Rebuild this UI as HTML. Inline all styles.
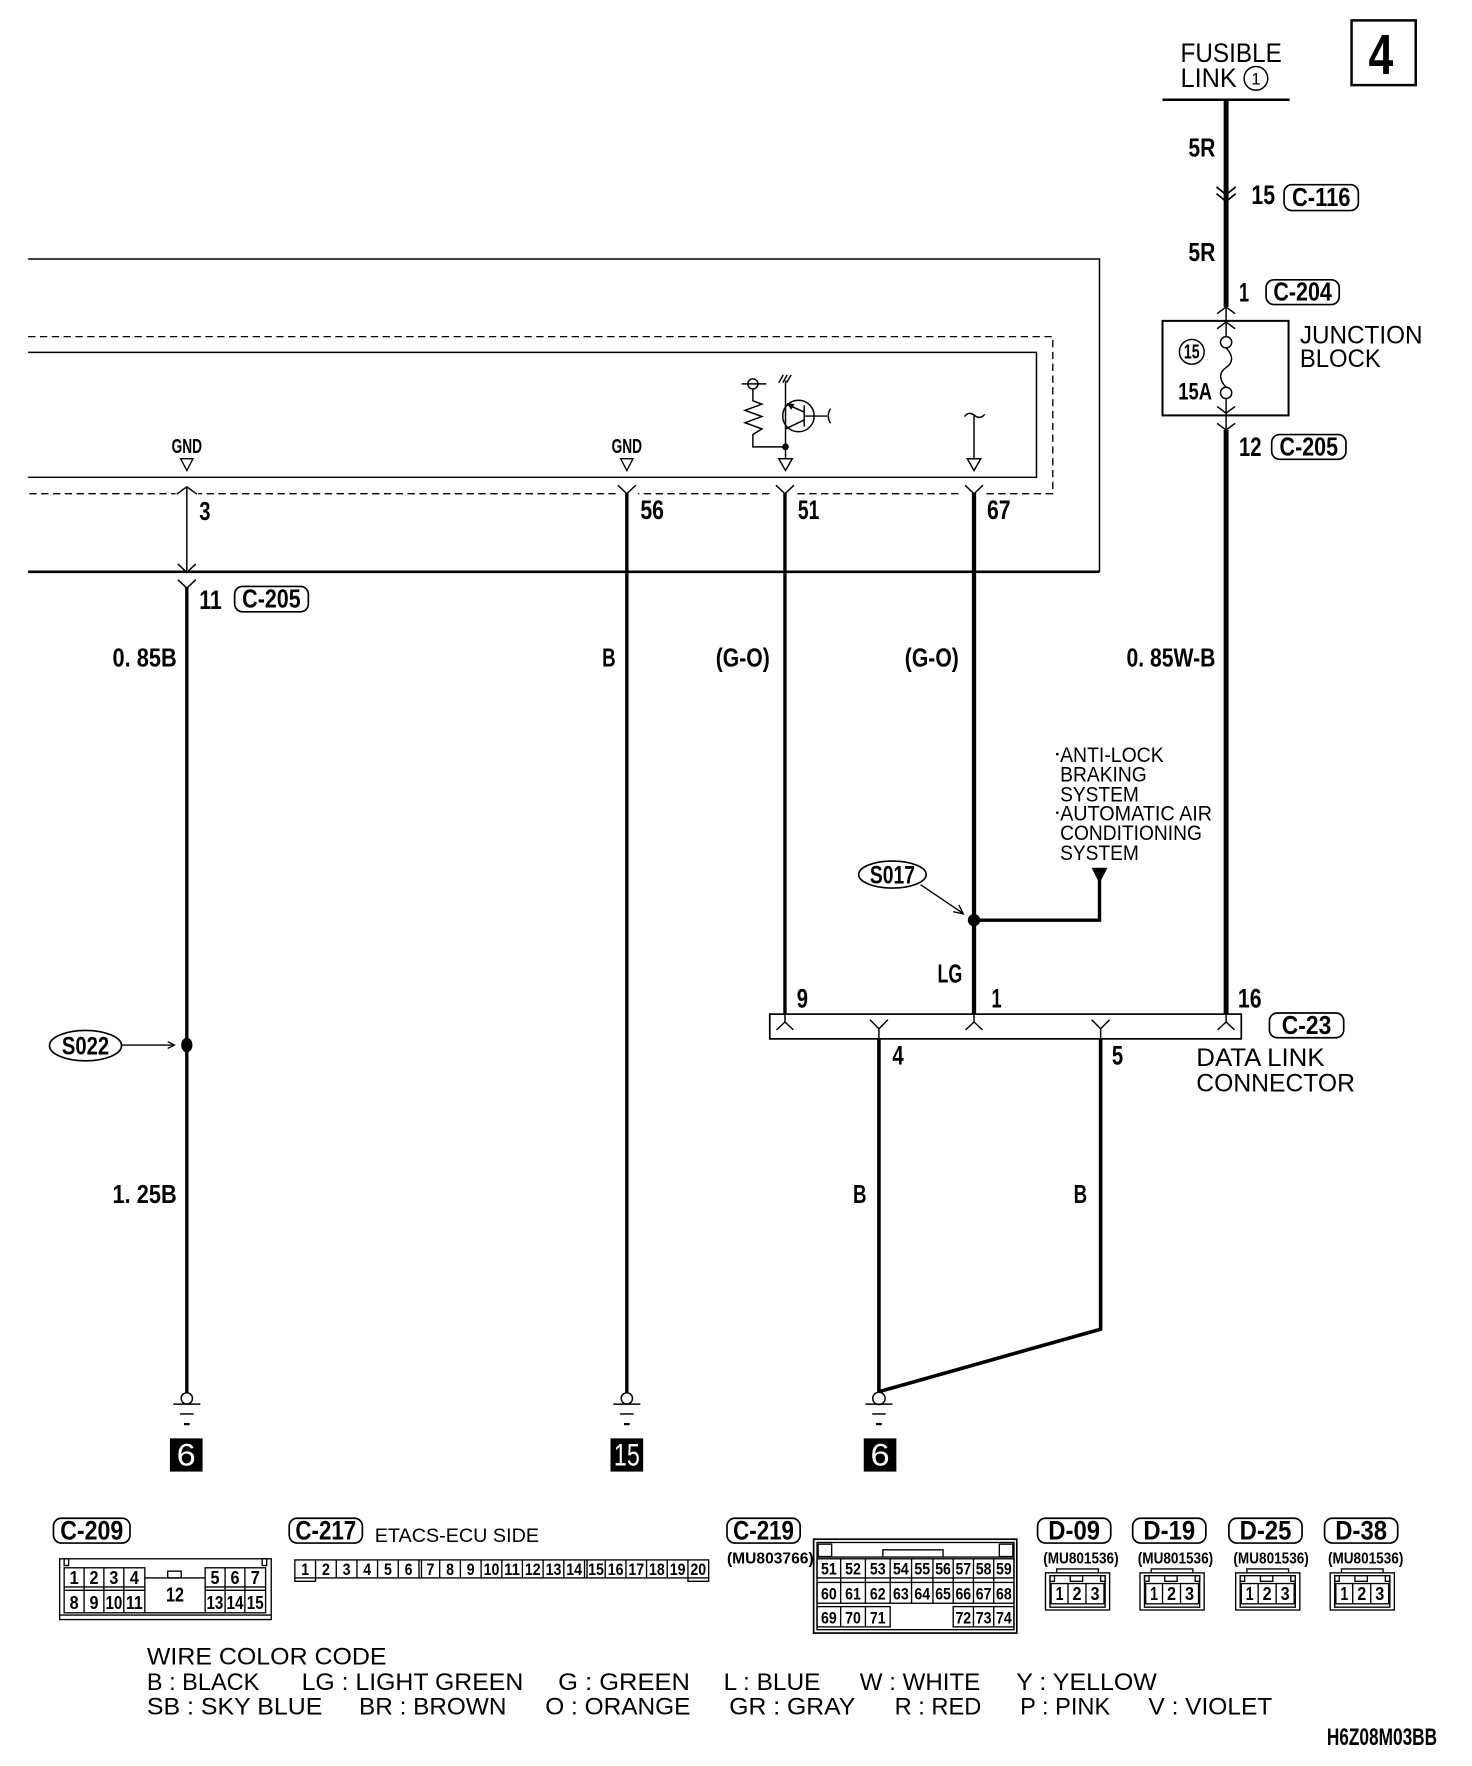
<!DOCTYPE html>
<html><head><meta charset="utf-8">
<style>
html,body{margin:0;padding:0;background:#fff;}
svg{display:block;}
text{font-family:"Liberation Sans",sans-serif;fill:#000;}
</style></head><body>
<svg width="1472" height="1766" viewBox="0 0 1308 1569" xmlns="http://www.w3.org/2000/svg">
<rect x="0" y="0" width="1308" height="1569" fill="#fff"/>

<!-- ===== Top right: page number, fusible link ===== -->
<rect x="1201" y="18" width="57" height="57.5" fill="none" stroke="#000" stroke-width="2.2"/>
<text x="1216" y="65.5" font-size="50" font-weight="bold" textLength="22" lengthAdjust="spacingAndGlyphs">4</text>
<text x="1049" y="55" font-size="24" textLength="90" lengthAdjust="spacingAndGlyphs">FUSIBLE</text>
<text x="1049" y="77" font-size="24" textLength="50" lengthAdjust="spacingAndGlyphs">LINK</text>
<circle cx="1116" cy="69.5" r="10.5" fill="none" stroke="#000" stroke-width="1.3"/>
<text x="1116" y="75" font-size="15" text-anchor="middle">1</text>
<line x1="1033" y1="88.5" x2="1146" y2="88.5" stroke="#000" stroke-width="2.2"/>

<!-- main power wire -->
<line x1="1089.5" y1="88" x2="1089.5" y2="272.6" stroke="#000" stroke-width="4.4"/>
<text x="1056" y="139" font-size="23" font-weight="bold" textLength="24" lengthAdjust="spacingAndGlyphs">5R</text>
<polyline points="1081,166 1089.5,173 1098,166" fill="none" stroke="#000" stroke-width="1.5"/>
<polyline points="1081,172 1089.5,179 1098,172" fill="none" stroke="#000" stroke-width="1.5"/>
<text x="1112" y="181" font-size="24" font-weight="bold" textLength="21" lengthAdjust="spacingAndGlyphs">15</text>
<rect x="1141" y="164" width="66" height="23" rx="7" fill="none" stroke="#000" stroke-width="1.5"/>
<text x="1174" y="183" font-size="23" font-weight="bold" text-anchor="middle" textLength="52" lengthAdjust="spacingAndGlyphs">C-116</text>
<text x="1056" y="232" font-size="23" font-weight="bold" textLength="24" lengthAdjust="spacingAndGlyphs">5R</text>
<text x="1101" y="268" font-size="24" font-weight="bold" textLength="9" lengthAdjust="spacingAndGlyphs">1</text>
<rect x="1125" y="248.5" width="65" height="22" rx="7" fill="none" stroke="#000" stroke-width="1.5"/>
<text x="1157.5" y="267" font-size="23" font-weight="bold" text-anchor="middle" textLength="52" lengthAdjust="spacingAndGlyphs">C-204</text>

<!-- junction block -->
<polyline points="1081.5,278.6 1089.5,272.6 1097.5,278.6" fill="none" stroke="#000" stroke-width="1.3"/>
<line x1="1089.5" y1="272.6" x2="1089.5" y2="299" stroke="#000" stroke-width="1.3"/>
<rect x="1033" y="285" width="112" height="84" fill="none" stroke="#000" stroke-width="1.8"/>
<polyline points="1081.5,292 1089.5,286 1097.5,292" fill="none" stroke="#000" stroke-width="1.3"/>
<circle cx="1089.5" cy="304" r="5" fill="#fff" stroke="#000" stroke-width="1.3"/>
<path d="M1089.5 309 C1096 316 1096 322 1089.5 326.5 C1083 331 1083 337 1089.5 344" fill="none" stroke="#000" stroke-width="1.3"/>
<circle cx="1089.5" cy="349" r="5" fill="#fff" stroke="#000" stroke-width="1.3"/>
<line x1="1089.5" y1="354" x2="1089.5" y2="382" stroke="#000" stroke-width="1.3"/>
<polyline points="1081.5,361 1089.5,367 1097.5,361" fill="none" stroke="#000" stroke-width="1.3"/>
<polyline points="1081.5,376 1089.5,382 1097.5,376" fill="none" stroke="#000" stroke-width="1.3"/>
<circle cx="1059" cy="312.5" r="11" fill="none" stroke="#000" stroke-width="1.3"/>
<text x="1059" y="318.5" font-size="18" font-weight="bold" text-anchor="middle" textLength="14" lengthAdjust="spacingAndGlyphs">15</text>
<text x="1047" y="355" font-size="21" font-weight="bold" textLength="30" lengthAdjust="spacingAndGlyphs">15A</text>
<text x="1155" y="305" font-size="22" textLength="109" lengthAdjust="spacingAndGlyphs">JUNCTION</text>
<text x="1155" y="326" font-size="22" textLength="72" lengthAdjust="spacingAndGlyphs">BLOCK</text>
<text x="1101" y="405" font-size="24" font-weight="bold" textLength="20" lengthAdjust="spacingAndGlyphs">12</text>
<rect x="1130" y="386" width="66" height="22" rx="7" fill="none" stroke="#000" stroke-width="1.5"/>
<text x="1163" y="404.5" font-size="23" font-weight="bold" text-anchor="middle" textLength="52" lengthAdjust="spacingAndGlyphs">C-205</text>
<line x1="1089.5" y1="382" x2="1089.5" y2="901" stroke="#000" stroke-width="4.4"/>
<text x="1001" y="592" font-size="23" font-weight="bold" textLength="79" lengthAdjust="spacingAndGlyphs">0. 85W-B</text>

<!-- ===== ECU boxes ===== -->
<polyline points="25,230 977,230 977,508" fill="none" stroke="#000" stroke-width="1.3"/>
<line x1="25" y1="508" x2="977" y2="508" stroke="#000" stroke-width="2.4"/>
<path d="M25 299 H935.5 V438.6 H25" fill="none" stroke="#000" stroke-width="1.2" stroke-dasharray="6.5 4"/>
<path d="M25 313 H921 V424 H25" fill="none" stroke="#000" stroke-width="1.3"/>

<!-- GND labels -->
<text x="166" y="402.5" font-size="18" font-weight="bold" text-anchor="middle" textLength="27" lengthAdjust="spacingAndGlyphs">GND</text>
<polygon points="160.5,407.5 171.5,407.5 166,418" fill="none" stroke="#000" stroke-width="1.2"/>
<text x="557" y="402.5" font-size="18" font-weight="bold" text-anchor="middle" textLength="27" lengthAdjust="spacingAndGlyphs">GND</text>
<polygon points="551.5,407.5 562.5,407.5 557,418" fill="none" stroke="#000" stroke-width="1.2"/>

<!-- Pin 3 -->
<rect x="156" y="434" width="20" height="8" fill="#fff"/>
<polyline points="157,439 166,432.4 175,439" fill="none" stroke="#000" stroke-width="1.3"/>
<line x1="166" y1="432.4" x2="166" y2="508" stroke="#000" stroke-width="1.3"/>
<polyline points="158,501 166,508.5 174,501" fill="none" stroke="#000" stroke-width="1.3"/>
<polyline points="158,515 166,522.5 174,515" fill="none" stroke="#000" stroke-width="1.3"/>
<line x1="166" y1="522" x2="166" y2="1237.5" stroke="#000" stroke-width="3"/>
<text x="177" y="462" font-size="23" font-weight="bold" textLength="10" lengthAdjust="spacingAndGlyphs">3</text>
<text x="177" y="541" font-size="24" font-weight="bold" textLength="20" lengthAdjust="spacingAndGlyphs">11</text>
<rect x="208.5" y="521" width="65.5" height="22.5" rx="7" fill="none" stroke="#000" stroke-width="1.5"/>
<text x="241.2" y="539.5" font-size="23" font-weight="bold" text-anchor="middle" textLength="52" lengthAdjust="spacingAndGlyphs">C-205</text>
<text x="157" y="592" font-size="23" font-weight="bold" text-anchor="end" textLength="57" lengthAdjust="spacingAndGlyphs">0. 85B</text>

<!-- Pin 56 -->
<rect x="547" y="434" width="20" height="8" fill="#fff"/>
<polyline points="549,431 557,438.6 565,431" fill="none" stroke="#000" stroke-width="1.3"/>
<line x1="557" y1="438" x2="557" y2="1237.5" stroke="#000" stroke-width="3"/>
<text x="569" y="461" font-size="24" font-weight="bold" textLength="21" lengthAdjust="spacingAndGlyphs">56</text>
<text x="547" y="592" font-size="23" font-weight="bold" text-anchor="end" textLength="12" lengthAdjust="spacingAndGlyphs">B</text>

<!-- Pin 51 & internal transistor -->
<rect x="687" y="434" width="20" height="8" fill="#fff"/>
<polyline points="689.5,431 697.5,438.6 705.5,431" fill="none" stroke="#000" stroke-width="1.3"/>
<line x1="697.5" y1="438" x2="697.5" y2="901" stroke="#000" stroke-width="3"/>
<text x="709" y="461" font-size="24" font-weight="bold" textLength="19" lengthAdjust="spacingAndGlyphs">51</text>
<text x="684" y="592" font-size="23" font-weight="bold" text-anchor="end" textLength="48" lengthAdjust="spacingAndGlyphs">(G-O)</text>

<g stroke="#000" stroke-width="1.3" fill="none">
  <line x1="698" y1="338" x2="698" y2="407"/>
  <line x1="692" y1="340" x2="696" y2="333"/>
  <line x1="695.5" y1="340" x2="699.5" y2="333"/>
  <line x1="699" y1="340" x2="703" y2="333"/>
  <circle cx="709.5" cy="369.5" r="14"/>
  <line x1="714.6" y1="360" x2="714.6" y2="379"/>
  <line x1="700" y1="359.5" x2="714.6" y2="366"/>
  <line x1="714.6" y1="373" x2="698" y2="381"/>
  <line x1="714.6" y1="369.6" x2="735" y2="369.6"/>
  <path d="M738 363 Q734 369.6 738 376"/>
  <circle cx="669" cy="341" r="4.5" fill="#fff"/>
  <line x1="659" y1="341" x2="681" y2="341"/>
  <path d="M669 345.5 V356 L677 359 L662 364.5 L677 370 L662 375.5 L677 381 L669 386 V397 H698"/>
  <polygon points="692,407.5 704,407.5 698,418"/>
</g>
<polygon points="699,358 706,359 703,364" fill="#000"/>
<circle cx="698" cy="397" r="3" fill="#000"/>

<!-- Pin 67 -->
<g stroke="#000" stroke-width="1.3" fill="none">
  <path d="M857 370 Q861 365 866 369 Q871 373 875 368"/>
  <line x1="865.5" y1="369" x2="865.5" y2="407"/>
  <polygon points="859.5,407.5 871.5,407.5 865.5,418"/>
</g>
<rect x="855" y="434" width="20" height="8" fill="#fff"/>
<polyline points="857.5,431 865.5,438.6 873.5,431" fill="none" stroke="#000" stroke-width="1.3"/>
<line x1="865.5" y1="438" x2="865.5" y2="901" stroke="#000" stroke-width="3.8"/>
<text x="877" y="461" font-size="24" font-weight="bold" textLength="21" lengthAdjust="spacingAndGlyphs">67</text>
<text x="852" y="592" font-size="23" font-weight="bold" text-anchor="end" textLength="48" lengthAdjust="spacingAndGlyphs">(G-O)</text>

<!-- S017 splice -->
<ellipse cx="793" cy="777" rx="30" ry="12" fill="none" stroke="#000" stroke-width="1.5"/>
<text x="793" y="785" font-size="22" font-weight="bold" text-anchor="middle" textLength="40" lengthAdjust="spacingAndGlyphs">S017</text>
<line x1="818" y1="786" x2="855" y2="811" stroke="#000" stroke-width="1.2"/>
<polyline points="847,810 856,812 852,804" fill="none" stroke="#000" stroke-width="1.2"/>
<circle cx="865.5" cy="817.5" r="5.5" fill="#000"/>
<polyline points="865.5,817.5 977,817.5 977,782" fill="none" stroke="#000" stroke-width="3"/>
<polygon points="970,771 984,771 977,785" fill="#000"/>
<g font-size="19">
  <circle cx="939.5" cy="670" r="1.2" fill="#000"/>
  <text x="942" y="677" textLength="92" lengthAdjust="spacingAndGlyphs">ANTI-LOCK</text>
  <text x="942" y="694.5" textLength="77" lengthAdjust="spacingAndGlyphs">BRAKING</text>
  <text x="942" y="712" textLength="70" lengthAdjust="spacingAndGlyphs">SYSTEM</text>
  <circle cx="939.5" cy="722" r="1.2" fill="#000"/>
  <text x="942" y="729" textLength="135" lengthAdjust="spacingAndGlyphs">AUTOMATIC AIR</text>
  <text x="942" y="746.5" textLength="126" lengthAdjust="spacingAndGlyphs">CONDITIONING</text>
  <text x="942" y="764" textLength="70" lengthAdjust="spacingAndGlyphs">SYSTEM</text>
</g>
<text x="855" y="873" font-size="23" font-weight="bold" text-anchor="end" textLength="22" lengthAdjust="spacingAndGlyphs">LG</text>

<!-- ===== Data link connector ===== -->
<rect x="684" y="901" width="419" height="22" fill="none" stroke="#000" stroke-width="1.5"/>
<g stroke="#000" stroke-width="1.3" fill="none">
  <line x1="697.5" y1="901" x2="697.5" y2="908"/>
  <polyline points="690,915 697.5,908 705,915"/>
  <line x1="865.5" y1="901" x2="865.5" y2="908"/>
  <polyline points="858,915 865.5,908 873,915"/>
  <line x1="1089.5" y1="901" x2="1089.5" y2="908"/>
  <polyline points="1082,915 1089.5,908 1097,915"/>
  <polyline points="773,906 781,914 789,906"/>
  <line x1="781" y1="914" x2="781" y2="923"/>
  <polyline points="970,906 978,914 986,906"/>
  <line x1="978" y1="914" x2="978" y2="923"/>
</g>
<text x="708" y="895" font-size="24" font-weight="bold" textLength="10" lengthAdjust="spacingAndGlyphs">9</text>
<text x="881" y="895" font-size="24" font-weight="bold" textLength="9" lengthAdjust="spacingAndGlyphs">1</text>
<text x="1100" y="895" font-size="24" font-weight="bold" textLength="21" lengthAdjust="spacingAndGlyphs">16</text>
<text x="793" y="946" font-size="24" font-weight="bold" textLength="10" lengthAdjust="spacingAndGlyphs">4</text>
<text x="988" y="946" font-size="24" font-weight="bold" textLength="10" lengthAdjust="spacingAndGlyphs">5</text>
<rect x="1128" y="900" width="66" height="22" rx="7" fill="none" stroke="#000" stroke-width="1.5"/>
<text x="1161" y="918.5" font-size="23" font-weight="bold" text-anchor="middle" textLength="44" lengthAdjust="spacingAndGlyphs">C-23</text>
<text x="1063" y="947" font-size="22" textLength="114" lengthAdjust="spacingAndGlyphs">DATA LINK</text>
<text x="1063" y="970" font-size="22" textLength="141" lengthAdjust="spacingAndGlyphs">CONNECTOR</text>

<!-- wires 4 & 5 -->
<line x1="781" y1="923" x2="781" y2="1237" stroke="#000" stroke-width="3.2"/>
<polyline points="978,923 978,1181 781,1236.5" fill="none" stroke="#000" stroke-width="3.2" stroke-linejoin="round"/>
<text x="770" y="1069" font-size="23" font-weight="bold" text-anchor="end" textLength="12" lengthAdjust="spacingAndGlyphs">B</text>
<text x="966" y="1069" font-size="23" font-weight="bold" text-anchor="end" textLength="12" lengthAdjust="spacingAndGlyphs">B</text>

<!-- S022 -->
<ellipse cx="76" cy="929" rx="32" ry="13.5" fill="none" stroke="#000" stroke-width="1.5"/>
<text x="76" y="937" font-size="22" font-weight="bold" text-anchor="middle" textLength="42" lengthAdjust="spacingAndGlyphs">S022</text>
<line x1="108" y1="928.5" x2="155" y2="928.5" stroke="#000" stroke-width="1.2"/>
<polyline points="149,925.5 155,928.5 149,931.5" fill="none" stroke="#000" stroke-width="1.2"/>
<ellipse cx="166" cy="928.5" rx="5" ry="6.5" fill="#000"/>
<text x="157" y="1069" font-size="23" font-weight="bold" text-anchor="end" textLength="57" lengthAdjust="spacingAndGlyphs">1. 25B</text>

<!-- grounds -->
<g stroke="#000" fill="none">
  <circle cx="166" cy="1242.5" r="5" stroke-width="1.3" fill="#fff"/>
  <line x1="154" y1="1247.6" x2="178" y2="1247.6" stroke-width="1.3"/>
  <line x1="160" y1="1256.3" x2="172" y2="1256.3" stroke-width="1.3"/>
  <line x1="163.5" y1="1265.3" x2="168.5" y2="1265.3" stroke-width="2"/>
  <circle cx="557" cy="1242.5" r="5" stroke-width="1.3" fill="#fff"/>
  <line x1="545" y1="1247.6" x2="569" y2="1247.6" stroke-width="1.3"/>
  <line x1="551" y1="1256.3" x2="563" y2="1256.3" stroke-width="1.3"/>
  <line x1="554.5" y1="1265.3" x2="559.5" y2="1265.3" stroke-width="2"/>
  <circle cx="781" cy="1242.5" r="5.5" stroke-width="1.3" fill="#fff"/>
  <line x1="769" y1="1247.6" x2="793" y2="1247.6" stroke-width="1.3"/>
  <line x1="775" y1="1256.3" x2="787" y2="1256.3" stroke-width="1.3"/>
  <line x1="778.5" y1="1265.3" x2="783.5" y2="1265.3" stroke-width="2"/>
</g>
<rect x="151" y="1278" width="29" height="29.5" fill="#000"/>
<text x="165.5" y="1302" font-size="28" style="fill:#fff" text-anchor="middle" textLength="17" lengthAdjust="spacingAndGlyphs">6</text>
<rect x="542.5" y="1278" width="29" height="29.5" fill="#000"/>
<text x="557" y="1302" font-size="28" style="fill:#fff" text-anchor="middle" textLength="23" lengthAdjust="spacingAndGlyphs">15</text>
<rect x="767.5" y="1278" width="29" height="29.5" fill="#000"/>
<text x="782" y="1302" font-size="28" style="fill:#fff" text-anchor="middle" textLength="17" lengthAdjust="spacingAndGlyphs">6</text>

<!-- ===== Bottom connector views ===== -->
<!-- C-209 -->
<rect x="47.5" y="1349" width="68" height="22" rx="7" fill="none" stroke="#000" stroke-width="1.5"/>
<text x="81.5" y="1368" font-size="24" font-weight="bold" text-anchor="middle" textLength="56" lengthAdjust="spacingAndGlyphs">C-209</text>
<g stroke="#000" fill="none" stroke-width="1.2">
  <rect x="53" y="1385" width="188" height="54"/>
  <line x1="53" y1="1435" x2="241" y2="1435"/>
  <rect x="57" y="1385" width="4" height="6"/>
  <rect x="233" y="1385" width="4" height="6"/>
  <rect x="57" y="1393" width="71.7" height="40"/>
  <line x1="57" y1="1410" x2="128.7" y2="1410"/>
  <line x1="57" y1="1413" x2="128.7" y2="1413"/>
  <line x1="74.7" y1="1393" x2="74.7" y2="1433"/>
  <line x1="92.3" y1="1393" x2="92.3" y2="1433"/>
  <line x1="110" y1="1393" x2="110" y2="1433"/>
  <rect x="182.3" y="1393" width="53.7" height="40"/>
  <line x1="182.3" y1="1410" x2="236" y2="1410"/>
  <line x1="182.3" y1="1413" x2="236" y2="1413"/>
  <line x1="200" y1="1393" x2="200" y2="1433"/>
  <line x1="217.6" y1="1393" x2="217.6" y2="1433"/>
  <line x1="128.7" y1="1402" x2="182.3" y2="1402"/>
  <line x1="128.7" y1="1433" x2="182.3" y2="1433"/>
  <rect x="149" y="1396" width="12" height="6"/>
</g>
<g font-size="16" font-weight="bold" text-anchor="middle">
  <text x="65.9" y="1407.5" textLength="8" lengthAdjust="spacingAndGlyphs">1</text>
  <text x="83.5" y="1407.5" textLength="8" lengthAdjust="spacingAndGlyphs">2</text>
  <text x="101.2" y="1407.5" textLength="8" lengthAdjust="spacingAndGlyphs">3</text>
  <text x="119.4" y="1407.5" textLength="8" lengthAdjust="spacingAndGlyphs">4</text>
  <text x="191" y="1407.5" textLength="8" lengthAdjust="spacingAndGlyphs">5</text>
  <text x="208.8" y="1407.5" textLength="8" lengthAdjust="spacingAndGlyphs">6</text>
  <text x="226.8" y="1407.5" textLength="8" lengthAdjust="spacingAndGlyphs">7</text>
  <text x="65.9" y="1429.5" textLength="8" lengthAdjust="spacingAndGlyphs">8</text>
  <text x="83.5" y="1429.5" textLength="8" lengthAdjust="spacingAndGlyphs">9</text>
  <text x="101.2" y="1429.5" textLength="15" lengthAdjust="spacingAndGlyphs">10</text>
  <text x="119.4" y="1429.5" textLength="15" lengthAdjust="spacingAndGlyphs">11</text>
  <text x="191" y="1429.5" textLength="15" lengthAdjust="spacingAndGlyphs">13</text>
  <text x="208.8" y="1429.5" textLength="15" lengthAdjust="spacingAndGlyphs">14</text>
  <text x="226.8" y="1429.5" textLength="15" lengthAdjust="spacingAndGlyphs">15</text>
  <text x="155.5" y="1423" font-size="18" textLength="16" lengthAdjust="spacingAndGlyphs">12</text>
</g>

<!-- C-217 -->
<rect x="257" y="1349" width="65" height="22" rx="7" fill="none" stroke="#000" stroke-width="1.5"/>
<text x="289.5" y="1368" font-size="24" font-weight="bold" text-anchor="middle" textLength="54" lengthAdjust="spacingAndGlyphs">C-217</text>
<text x="333" y="1370" font-size="17" textLength="146" lengthAdjust="spacingAndGlyphs">ETACS-ECU SIDE</text>
<g stroke="#000" fill="none" stroke-width="1.2">
  <rect x="262" y="1386" width="367.7" height="16"/>
  <polyline points="262,1402 262,1405 280.4,1405 280.4,1402"/>
  <polyline points="611.3,1402 611.3,1405 629.7,1405 629.7,1402"/>
  <line x1="280.4" y1="1386" x2="280.4" y2="1402"/>
  <line x1="298.8" y1="1386" x2="298.8" y2="1402"/>
  <line x1="317.2" y1="1386" x2="317.2" y2="1402"/>
  <line x1="335.5" y1="1386" x2="335.5" y2="1402"/>
  <line x1="353.9" y1="1386" x2="353.9" y2="1402"/>
  <line x1="372.3" y1="1386" x2="372.3" y2="1402"/>
  <line x1="374.5" y1="1386" x2="374.5" y2="1402"/>
  <line x1="390.7" y1="1386" x2="390.7" y2="1402"/>
  <line x1="409.1" y1="1386" x2="409.1" y2="1402"/>
  <line x1="427.5" y1="1386" x2="427.5" y2="1402"/>
  <line x1="445.9" y1="1386" x2="445.9" y2="1402"/>
  <line x1="464.2" y1="1386" x2="464.2" y2="1402"/>
  <line x1="482.6" y1="1386" x2="482.6" y2="1402"/>
  <line x1="501" y1="1386" x2="501" y2="1402"/>
  <line x1="519.4" y1="1386" x2="519.4" y2="1402"/>
  <line x1="521.6" y1="1386" x2="521.6" y2="1402"/>
  <line x1="537.8" y1="1386" x2="537.8" y2="1402"/>
  <line x1="556.2" y1="1386" x2="556.2" y2="1402"/>
  <line x1="574.5" y1="1386" x2="574.5" y2="1402"/>
  <line x1="592.9" y1="1386" x2="592.9" y2="1402"/>
  <line x1="611.3" y1="1386" x2="611.3" y2="1402"/>
</g>
<g font-size="15" font-weight="bold" text-anchor="middle">
  <text x="271.2" y="1399.5" textLength="7" lengthAdjust="spacingAndGlyphs">1</text>
  <text x="289.6" y="1399.5" textLength="7" lengthAdjust="spacingAndGlyphs">2</text>
  <text x="308" y="1399.5" textLength="7" lengthAdjust="spacingAndGlyphs">3</text>
  <text x="326.3" y="1399.5" textLength="7" lengthAdjust="spacingAndGlyphs">4</text>
  <text x="344.7" y="1399.5" textLength="7" lengthAdjust="spacingAndGlyphs">5</text>
  <text x="363.1" y="1399.5" textLength="7" lengthAdjust="spacingAndGlyphs">6</text>
  <text x="382.5" y="1399.5" textLength="7" lengthAdjust="spacingAndGlyphs">7</text>
  <text x="399.9" y="1399.5" textLength="7" lengthAdjust="spacingAndGlyphs">8</text>
  <text x="418.3" y="1399.5" textLength="7" lengthAdjust="spacingAndGlyphs">9</text>
  <text x="436.7" y="1399.5" textLength="14" lengthAdjust="spacingAndGlyphs">10</text>
  <text x="455" y="1399.5" textLength="14" lengthAdjust="spacingAndGlyphs">11</text>
  <text x="473.4" y="1399.5" textLength="14" lengthAdjust="spacingAndGlyphs">12</text>
  <text x="491.8" y="1399.5" textLength="14" lengthAdjust="spacingAndGlyphs">13</text>
  <text x="510.2" y="1399.5" textLength="14" lengthAdjust="spacingAndGlyphs">14</text>
  <text x="529.6" y="1399.5" textLength="14" lengthAdjust="spacingAndGlyphs">15</text>
  <text x="547" y="1399.5" textLength="14" lengthAdjust="spacingAndGlyphs">16</text>
  <text x="565.4" y="1399.5" textLength="14" lengthAdjust="spacingAndGlyphs">17</text>
  <text x="583.7" y="1399.5" textLength="14" lengthAdjust="spacingAndGlyphs">18</text>
  <text x="602.1" y="1399.5" textLength="14" lengthAdjust="spacingAndGlyphs">19</text>
  <text x="620.5" y="1399.5" textLength="14" lengthAdjust="spacingAndGlyphs">20</text>
</g>

<!-- C-219 -->
<rect x="646" y="1349" width="65" height="22" rx="7" fill="none" stroke="#000" stroke-width="1.5"/>
<text x="678.5" y="1368" font-size="24" font-weight="bold" text-anchor="middle" textLength="54" lengthAdjust="spacingAndGlyphs">C-219</text>
<text x="646" y="1389" font-size="14" font-weight="bold" textLength="77" lengthAdjust="spacingAndGlyphs">(MU803766)</text>
<g stroke="#000" fill="none" stroke-width="1.2">
  <rect x="723" y="1367.6" width="180.5" height="83.4" stroke-width="1.5"/>
  <rect x="726" y="1370.5" width="175" height="77.5"/>
  <rect x="727" y="1372" width="12" height="11"/>
  <rect x="888" y="1372" width="12" height="11"/>
  <polyline points="784.5,1383 784.5,1377 838,1377 838,1383"/>
  <line x1="726" y1="1383.5" x2="901" y2="1383.5"/>
  <rect x="726" y="1385" width="175" height="17"/>
  <rect x="726" y="1406" width="175" height="18.5"/>
  <rect x="726" y="1427.5" width="65" height="18"/>
  <rect x="847" y="1427.5" width="54" height="18"/>
  <line x1="747" y1="1385" x2="747" y2="1424.5"/>
  <line x1="769" y1="1385" x2="769" y2="1424.5"/>
  <line x1="791" y1="1385" x2="791" y2="1424.5"/>
  <line x1="810" y1="1385" x2="810" y2="1424.5"/>
  <line x1="829" y1="1385" x2="829" y2="1424.5"/>
  <line x1="847" y1="1385" x2="847" y2="1424.5"/>
  <line x1="865" y1="1385" x2="865" y2="1424.5"/>
  <line x1="883" y1="1385" x2="883" y2="1424.5"/>
  <line x1="747" y1="1427.5" x2="747" y2="1445.5"/>
  <line x1="769" y1="1427.5" x2="769" y2="1445.5"/>
  <line x1="865" y1="1427.5" x2="865" y2="1445.5"/>
  <line x1="883" y1="1427.5" x2="883" y2="1445.5"/>
</g>
<g font-size="15" font-weight="bold" text-anchor="middle">
  <text x="736.5" y="1399" textLength="14" lengthAdjust="spacingAndGlyphs">51</text>
  <text x="758" y="1399" textLength="14" lengthAdjust="spacingAndGlyphs">52</text>
  <text x="780" y="1399" textLength="14" lengthAdjust="spacingAndGlyphs">53</text>
  <text x="800.5" y="1399" textLength="14" lengthAdjust="spacingAndGlyphs">54</text>
  <text x="819.5" y="1399" textLength="14" lengthAdjust="spacingAndGlyphs">55</text>
  <text x="838" y="1399" textLength="14" lengthAdjust="spacingAndGlyphs">56</text>
  <text x="856" y="1399" textLength="14" lengthAdjust="spacingAndGlyphs">57</text>
  <text x="874" y="1399" textLength="14" lengthAdjust="spacingAndGlyphs">58</text>
  <text x="892" y="1399" textLength="14" lengthAdjust="spacingAndGlyphs">59</text>
  <text x="736.5" y="1421" textLength="14" lengthAdjust="spacingAndGlyphs">60</text>
  <text x="758" y="1421" textLength="14" lengthAdjust="spacingAndGlyphs">61</text>
  <text x="780" y="1421" textLength="14" lengthAdjust="spacingAndGlyphs">62</text>
  <text x="800.5" y="1421" textLength="14" lengthAdjust="spacingAndGlyphs">63</text>
  <text x="819.5" y="1421" textLength="14" lengthAdjust="spacingAndGlyphs">64</text>
  <text x="838" y="1421" textLength="14" lengthAdjust="spacingAndGlyphs">65</text>
  <text x="856" y="1421" textLength="14" lengthAdjust="spacingAndGlyphs">66</text>
  <text x="874" y="1421" textLength="14" lengthAdjust="spacingAndGlyphs">67</text>
  <text x="892" y="1421" textLength="14" lengthAdjust="spacingAndGlyphs">68</text>
  <text x="736.5" y="1442.5" textLength="14" lengthAdjust="spacingAndGlyphs">69</text>
  <text x="758" y="1442.5" textLength="14" lengthAdjust="spacingAndGlyphs">70</text>
  <text x="780" y="1442.5" textLength="14" lengthAdjust="spacingAndGlyphs">71</text>
  <text x="856" y="1442.5" textLength="14" lengthAdjust="spacingAndGlyphs">72</text>
  <text x="874" y="1442.5" textLength="14" lengthAdjust="spacingAndGlyphs">73</text>
  <text x="892" y="1442.5" textLength="14" lengthAdjust="spacingAndGlyphs">74</text>
</g>

<!-- D connectors -->
<g>
  <rect x="922" y="1349" width="65" height="22" rx="7" fill="none" stroke="#000" stroke-width="1.5"/>
  <text x="954.5" y="1368" font-size="24" font-weight="bold" text-anchor="middle" textLength="46" lengthAdjust="spacingAndGlyphs">D-09</text>
  <rect x="1006.5" y="1349" width="65" height="22" rx="7" fill="none" stroke="#000" stroke-width="1.5"/>
  <text x="1039" y="1368" font-size="24" font-weight="bold" text-anchor="middle" textLength="46" lengthAdjust="spacingAndGlyphs">D-19</text>
  <rect x="1092" y="1349" width="65" height="22" rx="7" fill="none" stroke="#000" stroke-width="1.5"/>
  <text x="1124.5" y="1368" font-size="24" font-weight="bold" text-anchor="middle" textLength="46" lengthAdjust="spacingAndGlyphs">D-25</text>
  <rect x="1177" y="1349" width="65" height="22" rx="7" fill="none" stroke="#000" stroke-width="1.5"/>
  <text x="1209.5" y="1368" font-size="24" font-weight="bold" text-anchor="middle" textLength="46" lengthAdjust="spacingAndGlyphs">D-38</text>
  <g font-size="14" font-weight="bold">
    <text x="927" y="1389" textLength="67" lengthAdjust="spacingAndGlyphs">(MU801536)</text>
    <text x="1011" y="1389" textLength="67" lengthAdjust="spacingAndGlyphs">(MU801536)</text>
    <text x="1096" y="1389" textLength="67" lengthAdjust="spacingAndGlyphs">(MU801536)</text>
    <text x="1180" y="1389" textLength="67" lengthAdjust="spacingAndGlyphs">(MU801536)</text>
  </g>
</g>
<g stroke="#000" fill="none" stroke-width="1.2">
  <polyline points="939,1397.5 939,1394 976,1394 976,1397.5"/>
  <rect x="929" y="1397.5" width="57" height="33"/>
  <rect x="933" y="1400" width="49" height="28"/>
  <rect x="933" y="1400" width="4" height="5"/>
  <rect x="978" y="1400" width="4" height="5"/>
  <rect x="951" y="1400" width="11" height="5"/>
  <rect x="934" y="1407" width="47" height="18"/>
  <line x1="949" y1="1407" x2="949" y2="1425"/>
  <line x1="965" y1="1407" x2="965" y2="1425"/>
  <polyline points="1023,1397.5 1023,1394 1060,1394 1060,1397.5"/>
  <rect x="1013" y="1397.5" width="57" height="33"/>
  <rect x="1017" y="1400" width="49" height="28"/>
  <rect x="1017" y="1400" width="4" height="5"/>
  <rect x="1062" y="1400" width="4" height="5"/>
  <rect x="1035" y="1400" width="11" height="5"/>
  <rect x="1018" y="1407" width="47" height="18"/>
  <line x1="1033" y1="1407" x2="1033" y2="1425"/>
  <line x1="1049" y1="1407" x2="1049" y2="1425"/>
  <polyline points="1108,1397.5 1108,1394 1145,1394 1145,1397.5"/>
  <rect x="1098" y="1397.5" width="57" height="33"/>
  <rect x="1102" y="1400" width="49" height="28"/>
  <rect x="1102" y="1400" width="4" height="5"/>
  <rect x="1147" y="1400" width="4" height="5"/>
  <rect x="1120" y="1400" width="11" height="5"/>
  <rect x="1103" y="1407" width="47" height="18"/>
  <line x1="1118" y1="1407" x2="1118" y2="1425"/>
  <line x1="1134" y1="1407" x2="1134" y2="1425"/>
  <polyline points="1192,1397.5 1192,1394 1229,1394 1229,1397.5"/>
  <rect x="1182" y="1397.5" width="57" height="33"/>
  <rect x="1186" y="1400" width="49" height="28"/>
  <rect x="1186" y="1400" width="4" height="5"/>
  <rect x="1231" y="1400" width="4" height="5"/>
  <rect x="1204" y="1400" width="11" height="5"/>
  <rect x="1187" y="1407" width="47" height="18"/>
  <line x1="1202" y1="1407" x2="1202" y2="1425"/>
  <line x1="1218" y1="1407" x2="1218" y2="1425"/>
</g>
<g font-size="16" font-weight="bold" text-anchor="middle">
  <text x="941.5" y="1421.5" textLength="7" lengthAdjust="spacingAndGlyphs">1</text>
  <text x="957" y="1421.5" textLength="8" lengthAdjust="spacingAndGlyphs">2</text>
  <text x="973" y="1421.5" textLength="8" lengthAdjust="spacingAndGlyphs">3</text>
  <text x="1025.5" y="1421.5" textLength="7" lengthAdjust="spacingAndGlyphs">1</text>
  <text x="1041" y="1421.5" textLength="8" lengthAdjust="spacingAndGlyphs">2</text>
  <text x="1057" y="1421.5" textLength="8" lengthAdjust="spacingAndGlyphs">3</text>
  <text x="1110.5" y="1421.5" textLength="7" lengthAdjust="spacingAndGlyphs">1</text>
  <text x="1126" y="1421.5" textLength="8" lengthAdjust="spacingAndGlyphs">2</text>
  <text x="1142" y="1421.5" textLength="8" lengthAdjust="spacingAndGlyphs">3</text>
  <text x="1194.5" y="1421.5" textLength="7" lengthAdjust="spacingAndGlyphs">1</text>
  <text x="1210" y="1421.5" textLength="8" lengthAdjust="spacingAndGlyphs">2</text>
  <text x="1226" y="1421.5" textLength="8" lengthAdjust="spacingAndGlyphs">3</text>
</g>

<!-- ===== Wire color code legend ===== -->
<g font-size="21">
  <text x="130.5" y="1479" textLength="213" lengthAdjust="spacingAndGlyphs">WIRE COLOR CODE</text>
  <text x="130.5" y="1501.5" textLength="100" lengthAdjust="spacingAndGlyphs">B : BLACK</text>
  <text x="268" y="1501.5" textLength="197" lengthAdjust="spacingAndGlyphs">LG : LIGHT GREEN</text>
  <text x="496" y="1501.5" textLength="117" lengthAdjust="spacingAndGlyphs">G : GREEN</text>
  <text x="643" y="1501.5" textLength="86" lengthAdjust="spacingAndGlyphs">L : BLUE</text>
  <text x="764" y="1501.5" textLength="107" lengthAdjust="spacingAndGlyphs">W : WHITE</text>
  <text x="903" y="1501.5" textLength="125" lengthAdjust="spacingAndGlyphs">Y : YELLOW</text>
  <text x="130.5" y="1523.5" textLength="156" lengthAdjust="spacingAndGlyphs">SB : SKY BLUE</text>
  <text x="319" y="1523.5" textLength="131" lengthAdjust="spacingAndGlyphs">BR : BROWN</text>
  <text x="484.5" y="1523.5" textLength="129" lengthAdjust="spacingAndGlyphs">O : ORANGE</text>
  <text x="648" y="1523.5" textLength="112" lengthAdjust="spacingAndGlyphs">GR : GRAY</text>
  <text x="795" y="1523.5" textLength="77" lengthAdjust="spacingAndGlyphs">R : RED</text>
  <text x="906.5" y="1523.5" textLength="80" lengthAdjust="spacingAndGlyphs">P : PINK</text>
  <text x="1020.5" y="1523.5" textLength="110" lengthAdjust="spacingAndGlyphs">V : VIOLET</text>
</g>
<text x="1179" y="1550.5" font-size="21" font-weight="bold" textLength="98" lengthAdjust="spacingAndGlyphs">H6Z08M03BB</text>
</svg>
</body></html>
